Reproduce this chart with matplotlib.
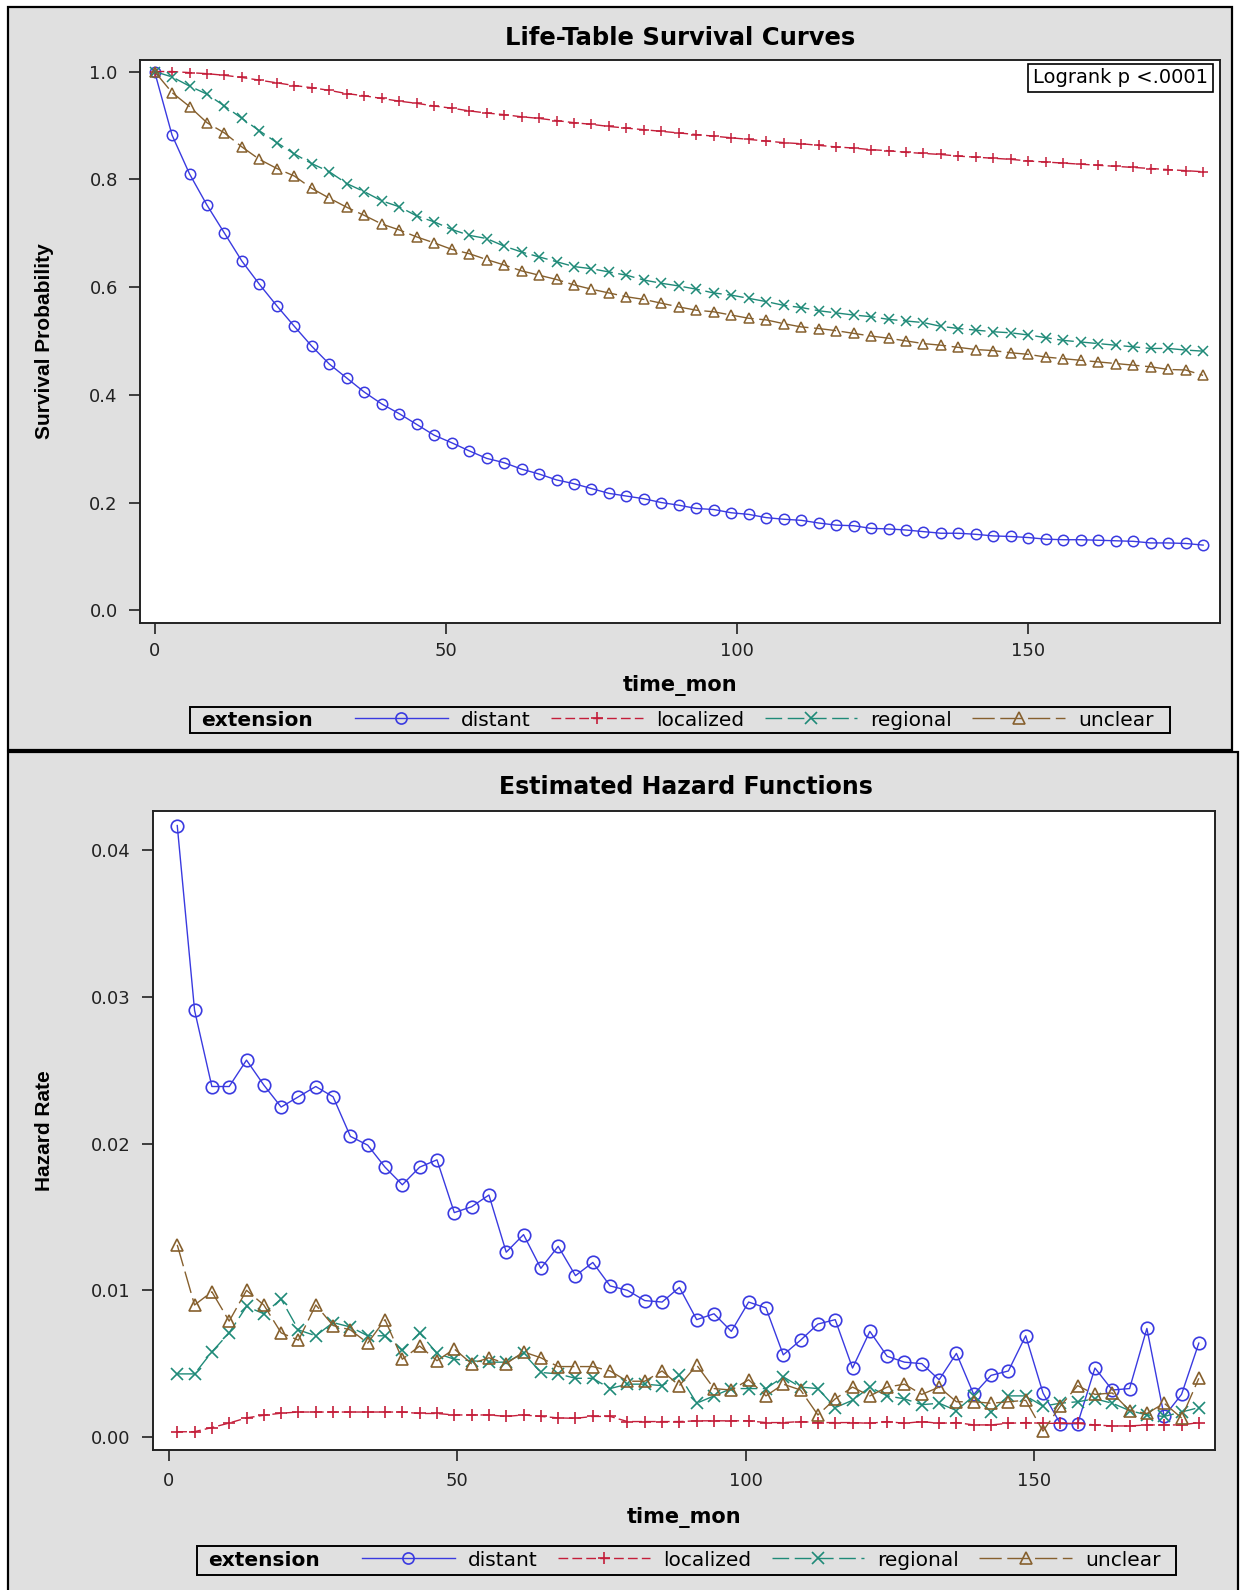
import matplotlib
matplotlib.use("Agg")
import matplotlib.pyplot as plt
from matplotlib.patches import Rectangle
from matplotlib.lines import Line2D

plt.rcParams['font.family'] = ['DejaVu Sans']

# --- data ----------------------------------------------------------------
groups = ["distant", "localized", "regional", "unclear"]

surv_time = [0, 3, 6, 9, 12, 15, 18, 21, 24, 27, 30, 33, 36, 39, 42, 45, 48, 51, 54, 57,
             60, 63, 66, 69, 72, 75, 78, 81, 84, 87, 90, 93, 96, 99, 102, 105, 108, 111,
             114, 117, 120, 123, 126, 129, 132, 135, 138, 141, 144, 147, 150, 153, 156,
             159, 162, 165, 168, 171, 174, 177, 180]

surv_distant = [1.000, 0.882, 0.810, 0.752, 0.700, 0.648, 0.605, 0.565, 0.527, 0.490,
                0.457, 0.431, 0.405, 0.383, 0.365, 0.345, 0.325, 0.311, 0.296, 0.282,
                0.274, 0.262, 0.253, 0.242, 0.235, 0.226, 0.217, 0.212, 0.207, 0.200,
                0.195, 0.189, 0.187, 0.181, 0.178, 0.172, 0.169, 0.167, 0.162, 0.158,
                0.157, 0.152, 0.151, 0.149, 0.146, 0.143, 0.143, 0.141, 0.138, 0.137,
                0.135, 0.132, 0.131, 0.131, 0.130, 0.129, 0.128, 0.125, 0.125, 0.124,
                0.121]
surv_localized = [1.000, 1.000, 0.998, 0.996, 0.993, 0.989, 0.984, 0.979, 0.974, 0.970,
                  0.965, 0.959, 0.955, 0.950, 0.945, 0.941, 0.936, 0.932, 0.927, 0.923,
                  0.920, 0.916, 0.913, 0.909, 0.905, 0.902, 0.898, 0.895, 0.892, 0.889,
                  0.886, 0.883, 0.880, 0.877, 0.874, 0.871, 0.868, 0.866, 0.863, 0.860,
                  0.858, 0.855, 0.853, 0.850, 0.848, 0.846, 0.843, 0.841, 0.839, 0.837,
                  0.834, 0.832, 0.830, 0.828, 0.826, 0.824, 0.822, 0.820, 0.818, 0.816,
                  0.814]
surv_regional = [1.000, 0.990, 0.973, 0.958, 0.936, 0.913, 0.890, 0.868, 0.847, 0.829,
                 0.814, 0.792, 0.777, 0.760, 0.749, 0.732, 0.721, 0.707, 0.696, 0.690,
                 0.676, 0.665, 0.656, 0.647, 0.638, 0.634, 0.628, 0.622, 0.613, 0.607,
                 0.602, 0.596, 0.589, 0.585, 0.579, 0.573, 0.566, 0.562, 0.556, 0.552,
                 0.548, 0.545, 0.540, 0.537, 0.534, 0.527, 0.523, 0.520, 0.517, 0.515,
                 0.511, 0.506, 0.501, 0.498, 0.495, 0.492, 0.489, 0.486, 0.486, 0.483,
                 0.481]
surv_unclear = [1.000, 0.961, 0.935, 0.905, 0.886, 0.860, 0.837, 0.820, 0.806, 0.783,
                0.765, 0.748, 0.733, 0.717, 0.706, 0.693, 0.682, 0.670, 0.662, 0.651,
                0.641, 0.630, 0.622, 0.614, 0.604, 0.596, 0.589, 0.582, 0.577, 0.570,
                0.563, 0.557, 0.554, 0.548, 0.542, 0.539, 0.532, 0.526, 0.523, 0.519,
                0.514, 0.509, 0.505, 0.500, 0.495, 0.492, 0.488, 0.484, 0.482, 0.478,
                0.475, 0.470, 0.467, 0.464, 0.461, 0.458, 0.455, 0.452, 0.447, 0.446,
                0.436]

haz_time = [1.5, 4.5, 7.5, 10.5, 13.5, 16.5, 19.5, 22.5, 25.5, 28.5, 31.5, 34.5, 37.5,
            40.5, 43.5, 46.5, 49.5, 52.5, 55.5, 58.5, 61.5, 64.5, 67.5, 70.5, 73.5, 76.5,
            79.5, 82.5, 85.5, 88.5, 91.5, 94.5, 97.5, 100.5, 103.5, 106.5, 109.5, 112.5,
            115.5, 118.5, 121.5, 124.5, 127.5, 130.5, 133.5, 136.5, 139.5, 142.5, 145.5,
            148.5, 151.5, 154.5, 157.5, 160.5, 163.5, 166.5, 169.5, 172.5, 175.5, 178.5]

haz_distant = [0.0417, 0.0291, 0.0239, 0.0239, 0.0257, 0.0240, 0.0225, 0.0232, 0.0239, 0.0232,
               0.0205, 0.0199, 0.0184, 0.0172, 0.0184, 0.0189, 0.0153, 0.0157, 0.0165, 0.0126,
               0.0138, 0.0115, 0.0130, 0.0110, 0.0119, 0.0103, 0.0100, 0.0093, 0.0092, 0.0102,
               0.0080, 0.0084, 0.0072, 0.0092, 0.0088, 0.0056, 0.0066, 0.0077, 0.0080, 0.0047,
               0.0072, 0.0055, 0.0051, 0.0050, 0.0039, 0.0057, 0.0029, 0.0042, 0.0045, 0.0069,
               0.0030, 0.0009, 0.0009, 0.0047, 0.0032, 0.0033, 0.0074, 0.0014, 0.0029, 0.0064]
haz_localized = [0.00035, 0.00036, 0.00064, 0.00095, 0.0013, 0.00148, 0.00162, 0.0017, 0.0017, 0.0017,
                 0.0017, 0.0017, 0.0017, 0.0017, 0.0016, 0.0016, 0.0015, 0.0015, 0.0015, 0.0014,
                 0.0015, 0.0014, 0.0013, 0.00127, 0.0014, 0.0014, 0.00105, 0.00105, 0.00105, 0.00105,
                 0.0011, 0.0011, 0.0011, 0.0011, 0.00098, 0.00098, 0.00105, 0.00098, 0.00098, 0.00098,
                 0.00093, 0.00105, 0.00093, 0.00105, 0.00093, 0.00098, 0.00082, 0.00082, 0.00093, 0.00098,
                 0.00093, 0.00093, 0.00093, 0.00082, 0.00075, 0.00075, 0.00082, 0.00082, 0.00082, 0.00098]
haz_regional = [0.0043, 0.0043, 0.0058, 0.0071, 0.0089, 0.0084, 0.0094, 0.0073, 0.0069, 0.0078,
                0.0075, 0.0069, 0.0069, 0.0059, 0.0071, 0.0057, 0.0053, 0.0052, 0.0051, 0.0051,
                0.0057, 0.0044, 0.0043, 0.0040, 0.0040, 0.0033, 0.0036, 0.0036, 0.0035, 0.0042,
                0.0023, 0.0028, 0.0033, 0.0033, 0.0033, 0.0041, 0.0034, 0.0033, 0.0020, 0.0025,
                0.0034, 0.0028, 0.0026, 0.0022, 0.0023, 0.0018, 0.0028, 0.0017, 0.0028, 0.0028,
                0.0021, 0.0023, 0.0024, 0.0026, 0.0023, 0.0018, 0.0015, 0.0014, 0.0017, 0.0020]
haz_unclear = [0.0131, 0.0090, 0.0099, 0.0079, 0.0100, 0.0090, 0.0071, 0.0066, 0.0090, 0.0076,
               0.0073, 0.0064, 0.0080, 0.0053, 0.0062, 0.0052, 0.0060, 0.0050, 0.0054, 0.0050,
               0.0058, 0.0054, 0.0048, 0.0048, 0.0048, 0.0045, 0.0038, 0.0038, 0.0045, 0.0035,
               0.0049, 0.0033, 0.0032, 0.0039, 0.0028, 0.0036, 0.0032, 0.0015, 0.0026, 0.0034,
               0.0028, 0.0034, 0.0036, 0.0029, 0.0034, 0.0024, 0.0024, 0.0023, 0.0024, 0.0025,
               0.0004, 0.0021, 0.0035, 0.0029, 0.0030, 0.0018, 0.0016, 0.0023, 0.0013, 0.0040]

surv_values = [surv_distant, surv_localized, surv_regional, surv_unclear]
haz_values = [haz_distant, haz_localized, haz_regional, haz_unclear]

# --- styles ----------------------------------------------------------------
STYLES = [
    dict(color="#3a3ae0", marker="o", mfc="none", ls="-"),
    dict(color="#c41e3a", marker="+", ls=(0, (7, 3))),
    dict(color="#1f8a78", marker="x", ls=(0, (12, 4))),
    dict(color="#86602e", marker="^", mfc="none", ls=(0, (16, 4))),
]
PANEL = "#e0e0e0"
W, H = 1241, 1590


def fig_box(x0, y0, x1, y1):
    # pixel box (top-left origin) -> figure fraction [left, bottom, width, height]
    return [x0 / W, 1 - y1 / H, (x1 - x0) / W, (y1 - y0) / H]


def fx(x):
    return x / W


def fy(y):
    return 1 - y / H


fig = plt.figure(figsize=(W / 100, H / 100), dpi=100, facecolor="white")

# panel backgrounds
for x0, y0, x1, y1 in [(8, 7, 1232, 750), (8, 752, 1238, 1600)]:
    b = fig_box(x0, y0, x1, y1)
    fig.patches.append(Rectangle((b[0], b[1]), b[2], b[3], transform=fig.transFigure,
                                 facecolor=PANEL, edgecolor="black", lw=1.6, zorder=-10))


def style_axes(ax, xpad):
    ax.set_facecolor("white")
    for sp in ax.spines.values():
        sp.set_linewidth(1.4)
        sp.set_color("#222222")
    ax.tick_params(direction="out", length=8, width=1.2, color="#222222",
                   labelsize=13, labelcolor="#222222")
    ax.tick_params(axis="y", pad=8)
    ax.tick_params(axis="x", pad=xpad)


def draw_legend(y_center, box, x_handle):
    b = fig_box(*box)
    fig.patches.append(Rectangle((b[0], b[1]), b[2], b[3], transform=fig.transFigure,
                                 facecolor="none", edgecolor="black", lw=1.4, zorder=5))
    fig.text(fx(box[0] + 11), fy(y_center), "extension", fontsize=14.5, fontweight="bold",
             ha="left", va="center")
    handles = [Line2D([], [], lw=1.0, ms=8, mew=1.2, **s) for s in STYLES]
    fig.legend(handles, groups, loc="center left", bbox_to_anchor=(fx(x_handle), fy(y_center)),
               ncol=4, frameon=False, fontsize=14.5, handlelength=4.6, handletextpad=0.65,
               columnspacing=1.0, borderpad=0, borderaxespad=0, numpoints=1)


# --- top panel: survival -----------------------------------------------------
ax1 = fig.add_axes(fig_box(140, 60, 1220, 623))
style_axes(ax1, 6)
for vals, st in zip(surv_values, STYLES):
    ax1.plot(surv_time, vals, lw=1.0, ms=7.5, mew=1.1, clip_on=False, **st)
ax1.set_xlim(-2.5, 182.9)
ax1.set_ylim(-0.0236, 1.0214)
ax1.set_xticks([0, 50, 100, 150])
ax1.set_yticks([0.0, 0.2, 0.4, 0.6, 0.8, 1.0])
ax1.set_yticklabels(["0.0", "0.2", "0.4", "0.6", "0.8", "1.0"])
ax1.set_xlabel("time_mon", fontsize=15, fontweight="bold", labelpad=10.5)
ax1.set_ylabel("Survival Probability", fontsize=15, fontweight="bold",
               family=["Liberation Sans Narrow", "Liberation Sans"])
ax1.yaxis.set_label_coords(-0.080, 0.5)
ax1.text(0.989, 0.985, "Logrank p <.0001", transform=ax1.transAxes, ha="right", va="top",
         fontsize=14, bbox=dict(boxstyle="square,pad=0.25", fc="white", ec="black", lw=1.2))
fig.text(fx(680), fy(38), "Life-Table Survival Curves", fontsize=17.5, fontweight="bold",
         ha="center", va="center")
draw_legend(720, (190, 707, 1170, 733), 355)

# --- bottom panel: hazard ----------------------------------------------------
ax2 = fig.add_axes(fig_box(153, 811, 1215, 1450))
style_axes(ax2, 8)
for vals, st in zip(haz_values, STYLES):
    ax2.plot(haz_time, vals, lw=1.0, ms=9, mew=1.2, clip_on=False, **st)
ax2.set_xlim(-2.7, 181.3)
ax2.set_ylim(-0.00089, 0.04269)
ax2.set_xticks([0, 50, 100, 150])
ax2.set_yticks([0.00, 0.01, 0.02, 0.03, 0.04])
ax2.set_yticklabels(["0.00", "0.01", "0.02", "0.03", "0.04"])
ax2.set_xlabel("time_mon", fontsize=15, fontweight="bold", labelpad=12)
ax2.set_ylabel("Hazard Rate", fontsize=15, fontweight="bold",
               family=["Liberation Sans Narrow", "Liberation Sans"])
ax2.yaxis.set_label_coords(-0.093, 0.5)
fig.text(fx(686), fy(787), "Estimated Hazard Functions", fontsize=17, fontweight="bold",
         ha="center", va="center")
draw_legend(1560, (197, 1546, 1176, 1575), 362)

fig.savefig("out.png", dpi=100, facecolor=fig.get_facecolor())
